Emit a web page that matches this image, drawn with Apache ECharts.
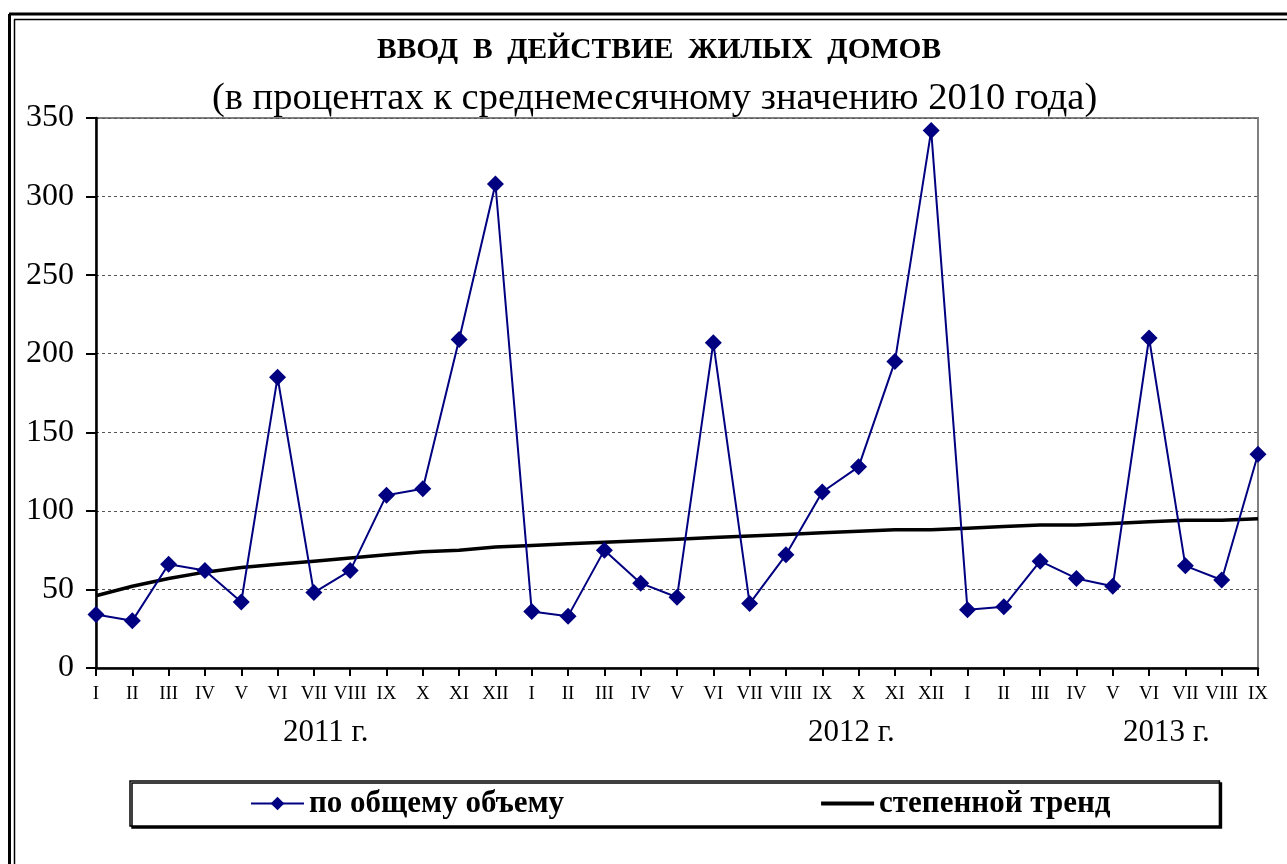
<!DOCTYPE html>
<html>
<head>
<meta charset="utf-8">
<script src="https://cdn.jsdelivr.net/npm/echarts@6/dist/echarts.min.js"></script>
<style>
  html, body { margin: 0; padding: 0; background: #fff; }
  #main { width: 1287px; height: 864px; }
</style>
</head>
<body>
<div id="main"></div>
<script>
var months = ['I','II','III','IV','V','VI','VII','VIII','IX','X','XI','XII',
              'I','II','III','IV','V','VI','VII','VIII','IX','X','XI','XII',
              'I','II','III','IV','V','VI','VII','VIII','IX'];
var total = [34, 30, 66, 62, 42, 185, 48, 62, 110, 114, 209, 308,
             36, 33, 75, 54, 45, 207, 41, 72, 112, 128, 195, 342,
             37, 39, 68, 57, 52, 210, 65, 56, 136];
var trend = [46, 52, 57, 61, 64, 66, 68, 70, 72, 74, 75, 77,
             78, 79, 80, 81, 82, 83, 84, 85, 86, 87, 88, 88,
             89, 90, 91, 91, 92, 93, 94, 94, 95];
var years = ['2011 г.', '2012 г.', '2013 г.'];
var yTicks = [0, 50, 100, 150, 200, 250, 300, 350];

var serif = '"Liberation Serif", "Times New Roman", serif';

showChart();

function showChart() {
    var myChart = echarts.init(document.getElementById('main'));
    var option = {
        backgroundColor: '#fff',
        animation: false,
        title: [{
            text: 'ВВОД  В  ДЕЙСТВИЕ  ЖИЛЫХ  ДОМОВ',
            left: 372,
            top: 30,
            textStyle: { fontFamily: serif, fontSize: 29.5, fontWeight: 'bold', color: '#000' }
        }, {
            text: '(в процентах к среднемесячному значению 2010 года)',
            left: 207,
            top: 74,
            textStyle: { fontFamily: serif, fontSize: 38.5, fontWeight: 'normal', color: '#000' }
        }],
        legend: {
            left: 130,
            top: 781,
            padding: [7, 109, 7, 120],
            itemGap: 255,
            itemWidth: 53,
            itemHeight: 17,
            borderColor: '#000',
            borderWidth: 1.5,
            shadowColor: '#000',
            shadowOffsetX: 2,
            shadowOffsetY: 2,
            shadowBlur: 0,
            backgroundColor: '#fff',
            textStyle: { fontFamily: serif, fontSize: 31, fontWeight: 'bold', color: '#000' },
            data: [
                { name: 'по общему объему' },
                { name: 'степенной тренд', itemStyle: { opacity: 0 }, lineStyle: { width: 4 } }
            ]
        },
        grid: {
            left: 96, right: 29, top: 118, bottom: 196,
            show: true, borderColor: '#808080', borderWidth: 2
        },
        xAxis: {
            type: 'category',
            boundaryGap: false,
            data: months,
            axisLine: { lineStyle: { color: '#000', width: 2.5 } },
            axisTick: { show: true, length: 8, lineStyle: { color: '#000', width: 2 } },
            axisLabel: { interval: 0, margin: 17, fontFamily: serif, fontSize: 19, color: '#000' },
            splitLine: { show: false }
        },
        yAxis: {
            type: 'value',
            min: yTicks[0],
            max: yTicks[yTicks.length - 1],
            interval: 50,
            axisLine: { show: true, lineStyle: { color: '#000', width: 2.5 } },
            axisTick: { show: true, length: 10, lineStyle: { color: '#000', width: 2 } },
            axisLabel: { margin: 22, fontFamily: serif, fontSize: 32, color: '#000' },
            splitLine: { lineStyle: { color: '#555', type: [3, 3], width: 1 } }
        },
        graphic: [
            { type: 'line', shape: { x1: 9, y1: 14, x2: 1287, y2: 14 }, style: { stroke: '#000', lineWidth: 3 } },
            { type: 'line', shape: { x1: 14, y1: 19.5, x2: 1287, y2: 19.5 }, style: { stroke: '#000', lineWidth: 1.5 } },
            { type: 'line', shape: { x1: 9.5, y1: 14, x2: 9.5, y2: 864 }, style: { stroke: '#000', lineWidth: 3 } },
            { type: 'line', shape: { x1: 14.5, y1: 19.5, x2: 14.5, y2: 864 }, style: { stroke: '#000', lineWidth: 1.5 } },
            { type: 'text', left: 283, top: 717, style: { text: years[0], font: '31px ' + serif, fill: '#000' } },
            { type: 'text', left: 808, top: 717, style: { text: years[1], font: '31px ' + serif, fill: '#000' } },
            { type: 'text', left: 1123, top: 717, style: { text: years[2], font: '31px ' + serif, fill: '#000' } }
        ],
        series: [{
            name: 'степенной тренд',
            type: 'line',
            data: trend,
            symbol: 'none',
            z: 2,
            lineStyle: { color: '#000', width: 3.5 },
            itemStyle: { color: '#000' }
        }, {
            name: 'по общему объему',
            type: 'line',
            data: total,
            symbol: 'diamond',
            symbolSize: 17,
            z: 3,
            lineStyle: { color: '#000080', width: 2 },
            itemStyle: { color: '#000080' }
        }]
    };
    myChart.setOption(option);
}
</script>
</body>
</html>
